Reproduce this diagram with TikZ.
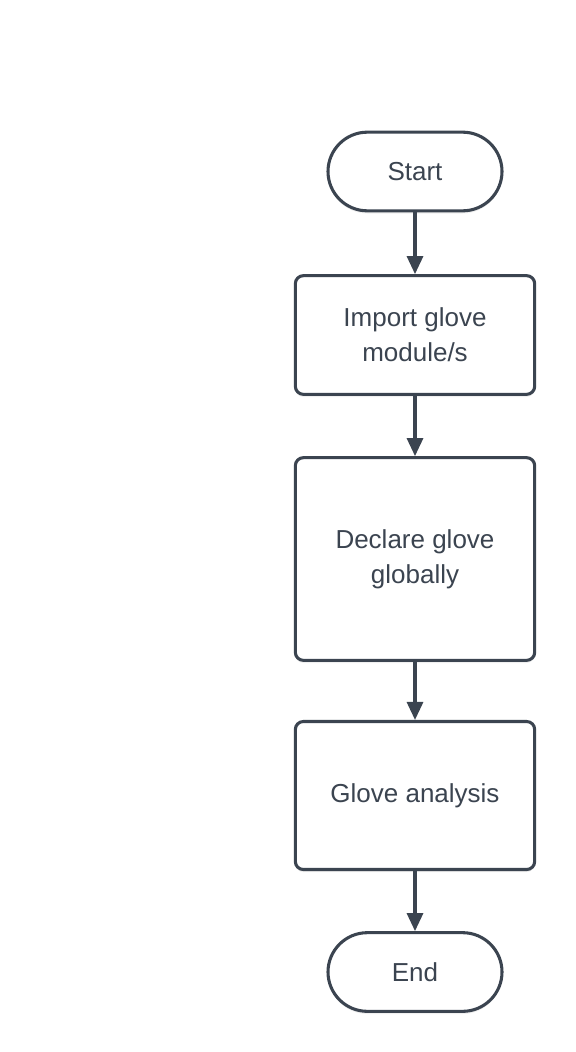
\documentclass[tikz,border=0pt]{standalone}
\usepackage{fontspec}
\setmainfont{Liberation Sans}
\usetikzlibrary{arrows.meta,shadows}
\definecolor{inkgray}{HTML}{3B4450}
\tikzset{>={Triangle[width=12pt,length=13.5pt]}}
\tikzset{
  terminal/.style={draw=inkgray,line width=2.3pt,fill=white,text=inkgray,
    minimum width=130.5pt,minimum height=59pt,rounded corners=29.5pt,
    font=\fontsize{19.5}{26}\selectfont,
    drop shadow={shadow xshift=0pt,shadow yshift=-2pt,opacity=0.12}},
  process/.style={draw=inkgray,line width=2.3pt,fill=white,text=inkgray,
    minimum width=179.5pt,rounded corners=6pt,align=center,
    font=\fontsize{19.5}{26}\selectfont,
    drop shadow={shadow xshift=0pt,shadow yshift=-2pt,opacity=0.12}},
  flow/.style={draw=inkgray,line width=2.3pt,->,color=inkgray}
}
\begin{document}
\begin{tikzpicture}[x=0.75pt,y=-0.75pt]
\useasboundingbox (0,0) rectangle (575,1052);
\node[terminal] (start) at (415,171.5) {Start};
\node[process,minimum height=89pt] (import) at (415,335) {Import glove\\module/s};
\node[process,minimum height=152pt] (declare) at (415,559) {Declare glove\\globally};
\node[process,minimum height=111pt] (analysis) at (415,795.5) {Glove analysis};
\node[terminal] (end) at (415,972) {End};

\draw[flow] (start) -- (import);
\draw[flow] (import) -- (declare);
\draw[flow] (declare) -- (analysis);
\draw[flow] (analysis) -- (end);
\end{tikzpicture}
\end{document}
